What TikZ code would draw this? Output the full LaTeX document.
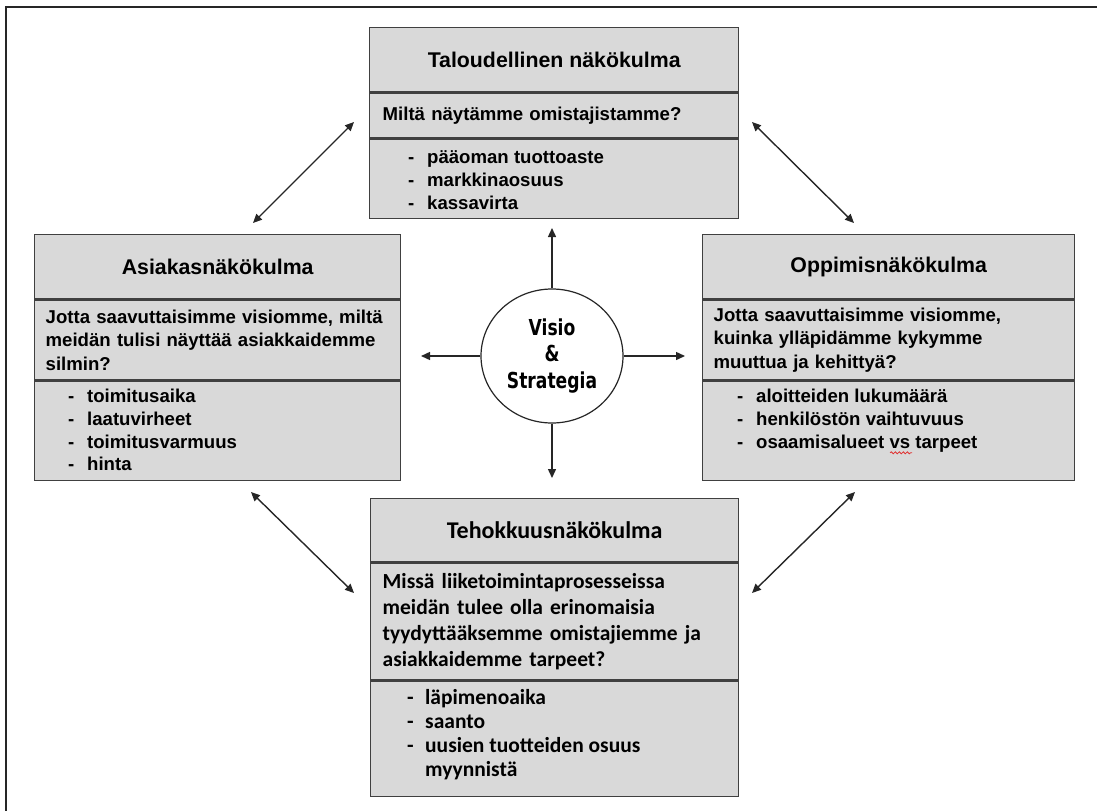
\documentclass[tikz,border=0pt]{standalone}
\usepackage{fontspec}
\setmainfont{Liberation Sans}
\newfontfamily\calfont{Carlito}
\newfontfamily\circfont[FakeStretch=0.78]{DejaVu Sans}
\usetikzlibrary{arrows.meta,shapes.geometric,decorations.pathmorphing,calc}
\definecolor{boxfill}{HTML}{D9D9D9}
\definecolor{boxline}{HTML}{404040}
\definecolor{arrowline}{HTML}{262626}
\definecolor{spellred}{HTML}{E03030}
% one list entry: dash, then the indented text
\newcommand\bsc[1]{\strut\makebox[19pt][l]{-}#1}
\newcommand\bscc[1]{\strut\makebox[18pt][l]{-}#1}
\tikzset{
  sect/.style={draw=boxline, fill=boxfill, line width=1.4pt, inner sep=0pt, anchor=north west},
  headtxt/.style={font=\bfseries\fontsize{21.3}{25}\selectfont},
  asktxt/.style={font=\bfseries\fontsize{18.6}{23.5}\selectfont, align=left},
  itemtxt/.style={font=\bfseries\fontsize{18.6}{22.6}\selectfont, align=left, anchor=north west, inner sep=0pt},
  calhead/.style={font=\calfont\bfseries\fontsize{24}{28}\selectfont},
  calask/.style={font=\calfont\bfseries\fontsize{21.5}{25.7}\selectfont, align=left},
  calitem/.style={font=\calfont\bfseries\fontsize{21.5}{24}\selectfont, align=left, anchor=north west, inner sep=0pt},
  tip/.tip={Triangle[length=9pt,width=8pt]},
  link/.style={draw=arrowline, line width=1.4pt, tip-tip},
  ray/.style={draw=arrowline, line width=1.4pt, -tip},
}
\begin{document}
\begin{tikzpicture}[x=1pt,y=-1pt]
\useasboundingbox (0,0) rectangle (1097,811);
% page frame (top and left edges)
\draw[line width=2.2pt, draw=black!85] (1097,7) -- (6,7) -- (6,811);

% --- Taloudellinen (top) ---
\node[sect, headtxt, minimum width=369pt, minimum height=64pt] (fin-head) at (369,27) {Taloudellinen näkökulma};
\node[sect, asktxt, minimum height=45pt, text width=343pt, inner xsep=13pt] (fin-ask) at (fin-head.south west) {Miltä näytämme omistajistamme?};
\node[sect, minimum width=369pt, minimum height=79pt] (fin-list) at (fin-ask.south west) {};
\node[itemtxt] (fin-items) at ($(fin-list.north west)+(39,9)$)
  {\bsc{pääoman tuottoaste}\\\bsc{markkinaosuus}\\\bsc{kassavirta}};

% --- Asiakas (left) ---
\node[sect, headtxt, minimum width=366pt, minimum height=64pt] (cus-head) at (34,234) {Asiakasnäkökulma};
\node[sect, asktxt, minimum height=80pt, text width=344pt, inner xsep=11pt] (cus-ask) at (cus-head.south west)
  {Jotta saavuttaisimme visiomme, miltä\\meidän tulisi näyttää asiakkaidemme\\silmin?};
\node[sect, minimum width=366pt, minimum height=99pt] (cus-list) at (cus-ask.south west) {};
\node[itemtxt] (cus-items) at ($(cus-list.north west)+(34,6)$)
  {\bsc{toimitusaika}\\\bsc{laatuvirheet}\\\bsc{toimitusvarmuus}\\\bsc{hinta}};

% --- Oppimis (right) ---
\node[sect, headtxt, minimum width=372pt, minimum height=64pt] (lrn-head) at (702,234) {Oppimisnäkökulma};
\node[sect, asktxt, minimum height=80pt, text width=350pt, inner xsep=11pt] (lrn-ask) at (lrn-head.south west)
  {Jotta saavuttaisimme visiomme,\\kuinka ylläpidämme kykymme\\muuttua ja kehittyä?};
\node[sect, minimum width=372pt, minimum height=99pt] (lrn-list) at (lrn-ask.south west) {};
\node[itemtxt] (lrn-items) at ($(lrn-list.north west)+(35,6)$)
  {\bsc{aloitteiden lukumäärä}\\\bsc{henkilöstön vaihtuvuus}\\\bsc{osaamisalueet vs tarpeet}};
\draw[spellred, line width=0.8pt, decorate, decoration={snake, amplitude=1pt, segment length=4pt}]
  ($(lrn-items.north west)+(153,66)$) -- ++(22,0);

% --- Tehokkuus (bottom) ---
\node[sect, calhead, minimum width=368pt, minimum height=63pt] (prc-head) at (370,498) {Tehokkuusnäkökulma};
\node[sect, calask, minimum height=117pt, text width=344pt, inner xsep=12pt] (prc-ask) at (prc-head.south west)
  {Missä liiketoimintaprosesseissa\\meidän tulee olla erinomaisia\\tyydyttääksemme omistajiemme ja\\asiakkaidemme tarpeet?};
\node[sect, minimum width=368pt, minimum height=115pt] (prc-list) at (prc-ask.south west) {};
\node[itemtxt, calitem] (prc-items) at ($(prc-list.north west)+(37,7)$)
  {\bscc{läpimenoaika}\\\bscc{saanto}\\\bscc{uusien tuotteiden osuus}\\\strut\hspace*{18pt}myynnistä};

% --- centre ---
\node[ellipse, draw=arrowline, line width=1.2pt, fill=white, minimum width=142pt, minimum height=134pt,
      align=center, font=\circfont\bfseries\fontsize{22}{26.5}\selectfont] (vs) at (552,356)
  {Visio\\\&\\Strategia};

\coordinate (up-end) at (552,228);
\coordinate (left-end) at (421,356);
\coordinate (right-end) at (685,356);
\coordinate (down-end) at (552,478);
\draw[ray] (vs.north) -- (up-end);
\draw[ray] (vs.west) -- (left-end);
\draw[ray] (vs.east) -- (right-end);
\draw[ray] (vs.south) -- (down-end);

% links between neighbouring perspectives
\coordinate (tl-a) at (253,223); \coordinate (tl-b) at (354,122);
\coordinate (tr-a) at (752,122); \coordinate (tr-b) at (854,223);
\coordinate (bl-a) at (251,492); \coordinate (bl-b) at (354,593);
\coordinate (br-a) at (855,492); \coordinate (br-b) at (752,593);
\draw[link] (tl-a) -- (tl-b);
\draw[link] (tr-a) -- (tr-b);
\draw[link] (bl-a) -- (bl-b);
\draw[link] (br-a) -- (br-b);
\end{tikzpicture}
\end{document}
